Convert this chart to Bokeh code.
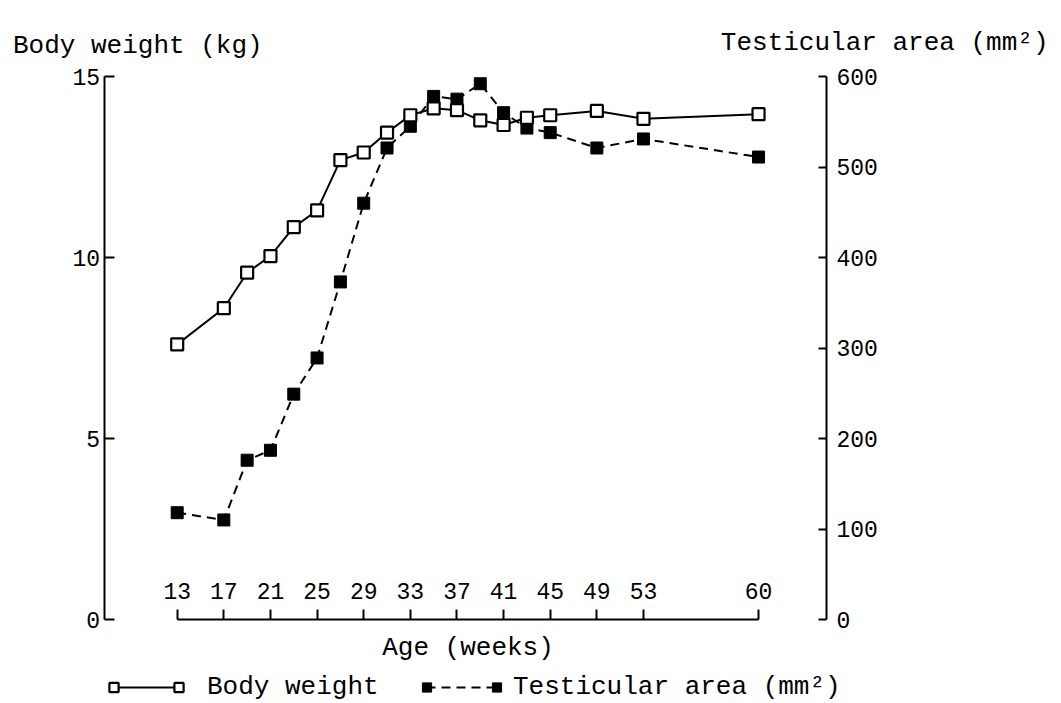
from bokeh.plotting import figure
from bokeh.models import (Range1d, LinearAxis, FixedTicker, Label, Legend,
                          LegendItem, ColumnDataSource)
from bokeh.core.properties import value
from bokeh.embed import file_html
from bokeh.resources import INLINE

# ---------------- data ----------------
weeks = [13, 17, 19, 21, 23, 25, 27, 29, 31, 33, 35, 37, 39, 41, 43, 45, 49, 53, 60]
body_weight_kg = [7.60, 8.60, 9.58, 10.04, 10.84, 11.30, 12.69, 12.90, 13.45, 13.93,
                  14.12, 14.07, 13.79, 13.66, 13.86, 13.93, 14.05, 13.83, 13.96]
testicular_area_mm2 = [118, 110, 176, 187, 249, 289, 373, 460, 521, 545,
                       578, 575, 592, 560, 543, 538, 521, 531, 511]
age_ticks = [13, 17, 21, 25, 29, 33, 37, 41, 45, 49, 53, 60]
weight_ticks = [0, 5, 10, 15]
area_ticks = [0, 100, 200, 300, 400, 500, 600]

# the original age axis is stretched after week 53
BREAK = 53
STRETCH = 1.41


def axis_pos(w):
    return float(w) if w <= BREAK else round(BREAK + (w - BREAK) * STRETCH, 3)


FONT = "Liberation Mono"
W, H = 1061, 703

# scale: 11.657 px per week, week 13 at x=176.7 ; 36.2 px per kg, 0 kg at y=619
PXW = 11.657
PXY = 36.2
x0 = 13 - 176.7 / PXW
y0 = -(H - 619) / PXY
y1 = 15 + 76 / PXY

src = ColumnDataSource(dict(
    pos=[axis_pos(w) for w in weeks],
    week=weeks,
    bw=body_weight_kg,
    ta=testicular_area_mm2,
))

p = figure(width=W, height=H, output_backend="svg", toolbar_location=None,
           x_range=Range1d(x0, x0 + W / PXW), y_range=Range1d(y0, y1),
           x_axis_type=None, y_axis_type=None,
           min_border_left=0, min_border_right=0,
           min_border_top=0, min_border_bottom=0)
p.title.visible = False
p.outline_line_color = None
p.extra_y_ranges = {"area": Range1d(y0 * 40, y1 * 40)}


def style_axis(ax):
    ax.axis_line_color = "black"
    ax.axis_line_width = 2
    ax.major_tick_line_color = "black"
    ax.major_tick_line_width = 2
    ax.major_tick_in = 10
    ax.major_tick_out = 0
    ax.minor_tick_in = 0
    ax.minor_tick_out = 0
    ax.major_label_text_font = FONT
    ax.major_label_text_font_size = "23px"
    ax.major_label_text_color = "black"


left = LinearAxis(ticker=FixedTicker(ticks=weight_ticks), bounds=(0, 15),
                  fixed_location=x0 + 103.5 / PXW)
style_axis(left)
left.major_label_standoff = 4
p.add_layout(left, "left")

right = LinearAxis(y_range_name="area", ticker=FixedTicker(ticks=area_ticks),
                   bounds=(0, 600), fixed_location=x0 + 826 / PXW)
style_axis(right)
right.major_tick_in = 8
right.major_label_standoff = 10
p.add_layout(right, "right")

tick_pos = [axis_pos(w) for w in age_ticks]
bottom = LinearAxis(ticker=FixedTicker(ticks=tick_pos),
                    major_label_overrides={tp: str(w) for tp, w in zip(tick_pos, age_ticks)},
                    bounds=(tick_pos[0], tick_pos[-1]), fixed_location=0,
                    axis_label="Age (weeks)")
style_axis(bottom)
bottom.major_label_standoff = -37
bottom.axis_label_text_font = FONT
bottom.axis_label_text_font_size = "26px"
bottom.axis_label_text_font_style = "normal"
bottom.axis_label_text_color = "black"
bottom.axis_label_standoff = 31
p.add_layout(bottom, "below")

# testicular area (dashed, filled squares)
ta_line = p.line("pos", "ta", source=src, y_range_name="area",
                 line_color="black", line_width=2, line_dash="9 6")
ta_pts = p.scatter("pos", "ta", source=src, y_range_name="area", marker="square",
                   size=12, fill_color="black", line_color="black", line_width=1)
# body weight (solid, open squares)
bw_line = p.line("pos", "bw", source=src, line_color="black", line_width=2)
bw_pts = p.scatter("pos", "bw", source=src, marker="square", size=12,
                   fill_color="white", line_color="black", line_width=2.2)

# axis titles (frame covers the whole canvas; y measured from the bottom)
p.add_layout(Label(x=12.5, y=H - 45.5, x_units="screen", y_units="screen",
                   text="Body weight (kg)", text_font=FONT, text_font_size="26px",
                   text_color="black", text_align="left", text_baseline="alphabetic"))
p.add_layout(Label(x=1048, y=H - 42, x_units="screen", y_units="screen",
                   text="Testicular area (mm²)", text_font=FONT, text_font_size="26px",
                   text_color="black", text_align="right", text_baseline="alphabetic"))


# legend: "□——□ Body weight   ■- - -■ Testicular area (mm²)"
ROW = 1  # bottom of legend boxes (screen px from bottom)


def legend_piece(renderer, label, x, gw, standoff=0):
    return Legend(items=[LegendItem(label=value(label), renderers=[renderer])],
                  orientation="horizontal", location=(x, ROW),
                  glyph_width=gw, glyph_height=30, label_height=30,
                  label_standoff=standoff, spacing=0, padding=0, margin=0,
                  label_width=0, label_text_font=FONT, label_text_font_size="26px",
                  label_text_color="black",
                  border_line_alpha=0, background_fill_alpha=0)


p.add_layout(legend_piece(bw_line, "", 113, 65))
p.add_layout(legend_piece(bw_pts, "", 102, 23))
p.add_layout(legend_piece(bw_pts, "Body weight", 167, 23, 17))
p.add_layout(legend_piece(ta_line, "", 426, 70))
p.add_layout(legend_piece(ta_pts, "", 415, 23))
p.add_layout(legend_piece(ta_pts, "Testicular area (mm²)", 485, 23, 5))

open("out.html", "w").write(file_html(p, INLINE))
